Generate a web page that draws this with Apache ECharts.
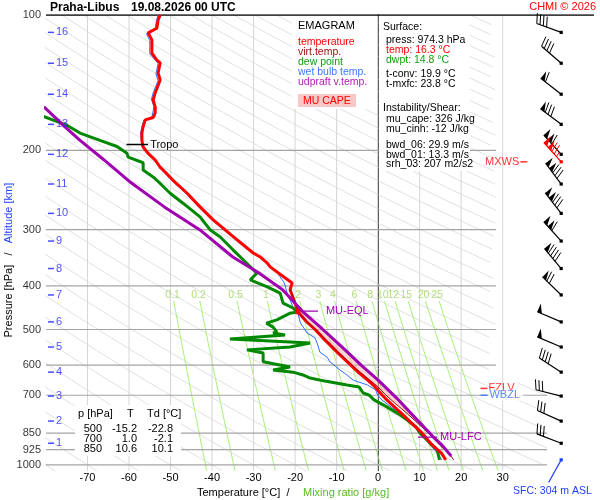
<!DOCTYPE html>
<html>
<head>
<meta charset="utf-8">
<title>Praha-Libus emagram</title>
<script src="https://cdn.jsdelivr.net/npm/echarts/dist/echarts.min.js"></script>
<style>
html, body { margin: 0; padding: 0; background: #fff; }
#chart { width: 600px; height: 500px; }
</style>
</head>
<body>
<div id="chart"></div>
<script>
var FONT = 'Liberation Sans, Arial, Helvetica, sans-serif';

// pressure levels labelled on the left [hPa]
var pressureTicks = [100, 200, 300, 400, 500, 600, 700, 850, 925, 1000];
// altitude marks [km] and the pressure where the sounding reaches them
var kmValues = [1, 2, 3, 4, 5, 6, 7, 8, 9, 10, 11, 12, 13, 14, 15, 16];
var kmPressure = [895, 799, 703, 622, 547, 481, 419, 366, 318, 276, 237.5, 204, 175, 150, 128, 109.3];
// background lines
var isotherms = [-70, -60, -50, -40, -30, -20, -10, 0, 10, 20, 30];
var mixingRatios = [0.1, 0.2, 0.5, 1, 2, 3, 4, 6, 8, 10, 12, 15, 20, 25];

// profiles, [pressure hPa, temperature °C]
var temperature = [
  [974.3, 16.3], [943, 15.3], [903, 13.0], [850, 10.6], [820, 8.8], [790, 7.0], [763, 5.3],
  [730, 3.0], [700, 1.0], [670, -0.8], [648, -2.5], [620, -5.0], [600, -6.6], [560, -10.0],
  [530, -12.6], [500, -15.2], [480, -17.3], [457, -19.3], [437, -20.0], [408, -21.2],
  [394, -20.7], [388, -21.7], [374, -24.1], [363, -26.0], [356, -26.7], [345, -28.4],
  [338, -30.1], [311, -34.9], [285, -39.8], [267, -42.9], [249, -46.0], [233, -49.4],
  [221, -51.8], [218, -52.5], [210, -53.7], [203, -55.4], [196.5, -56.6], [190, -56.9],
  [183, -56.9], [177, -56.6], [171, -56.1], [169, -54.2], [165, -53.7], [160, -53.7],
  [154.5, -54.2], [149, -53.7], [139.5, -52.5], [134.6, -53.0], [127.8, -52.5], [126, -53.3],
  [121.5, -54.5], [113.6, -54.5], [109.6, -55.4], [107, -53.3], [102.6, -53.0], [100, -52.5]
];
var virtualTemp = [
  [974.3, 18.2], [943, 17.1], [903, 14.8], [850, 12.2], [820, 10.3], [790, 8.4], [763, 6.6],
  [730, 4.1], [700, 1.9], [670, -0.1], [648, -2.0], [620, -4.5], [600, -6.3], [560, -9.8],
  [530, -12.4], [500, -15.0], [480, -17.2], [457, -19.2], [437, -19.9], [408, -21.1]
];
var dewPoint = [
  [974.3, 14.8], [926, 14.2], [894, 12.5], [850, 10.1], [824, 9.2], [795, 7.0], [767, 4.6],
  [744, 2.2], [717, -1.0], [700, -2.1], [692, -3.6], [671, -4.6], [664, -7.5], [652, -12.5],
  [641, -16.4], [631, -18.1], [622, -20.5], [615, -25.3], [606, -21.2], [590, -27.7],
  [564, -27.7], [555, -31.6], [547, -21.2], [536, -16.4], [525, -35.7], [514, -22.4],
  [509, -25.3], [506, -24.4], [494, -25.3], [484, -26.9], [476, -24.4], [460, -21.2],
  [457, -19.6], [448, -20.5], [437, -22.9], [415, -23.6], [402, -26.7], [388, -30.8],
  [382, -30.1], [375, -29.2], [350, -32.5], [333, -34.9], [311, -38.1], [300, -40.5],
  [281, -42.9], [262, -47.0], [249, -50.1], [233, -53.3], [229, -54.2], [221, -56.6],
  [213, -56.6], [207, -60.2], [203, -60.5], [196, -62.9], [190, -67.0], [183, -71.8],
  [176, -74.9], [168, -80.7]
];
var wetBulb = [
  [974.3, 15.3], [941, 14.3], [903, 12.5], [850, 10.3], [807, 7.6], [763, 4.8], [717, 0.9],
  [700, -0.1], [681, -0.6], [664, -2.6], [648, -6.0], [631, -7.5], [615, -9.2], [590, -11.6],
  [576, -12.3], [562, -14.0], [536, -14.7], [522, -15.2], [509, -17.1], [484, -18.7],
  [457, -19.4], [446, -20.5], [415, -21.9], [394, -22.6], [374, -24.3], [345, -28.6],
  [338, -30.4], [311, -35.2], [285, -40.1], [267, -43.2], [249, -46.3], [233, -49.7],
  [221, -52.1], [210, -54.0], [203, -55.7], [196, -56.9], [183, -57.2], [177, -56.9],
  [171, -56.4], [169, -54.5], [160, -54.0], [154, -54.6], [149, -54.2], [140, -53.0],
  [135, -53.5], [128, -53.0], [122, -55.0], [114, -55.0], [110, -55.8], [107, -53.7],
  [103, -53.4], [100, -53.0]
];
var parcel = [
  [955, 17.6], [900, 15.2], [867, 13.3], [794, 9.4], [717, 4.9], [648, 0.0], [600, -4.1],
  [550, -8.4], [500, -13.3], [455, -18.3], [408, -23.0], [374, -28.8], [345, -35.0],
  [300, -43.0], [267, -51.5], [236, -59.5], [210, -66.0], [190, -71.8], [177, -75.5], [160, -80.5]
];
var lfcPressure = 867, eqlPressure = 455, tropoPressure = 194;

// winds: pressure, direction [deg], speed [kt], kind (0 sounding, 1 max wind, 2 surface)
var windLevels = [974.3, 895, 799, 703, 622, 547, 481, 419, 366, 318, 276, 237.5, 204, 175, 150, 128, 109.3, 212];
var windDir = [209, 291, 294, 284, 303, 293, 293, 314, 320, 318, 322, 323, 318, 307, 308, 311, 290, 318];
var windSpeed = [0, 30, 30, 30, 40, 50, 50, 70, 90, 110, 130, 130, 110, 80, 60, 40, 40, 125];
var windKind = [2, 0, 0, 0, 0, 0, 0, 0, 0, 0, 0, 0, 0, 0, 0, 0, 0, 1];

var tableRows = [['500', '-15.2', '-22.8'], ['700', '1.0', '-2.1'], ['850', '10.6', '10.1']];

var barbT = 44.1;
function rightLimit(p) { return p < 650 ? 28.4 : 40.7; }
function toXY(arr) { return arr.map(function (d) { return [d[1], d[0]]; }); }

// diagonal background lines, one every 10 degrees at 1000 hPa
function adiabatLines() {
  var out = [];
  for (var th = -80; th <= 370; th += 10) {
    var seg = [];
    for (var i = 0; i <= 140; i++) {
      var p = 100 * Math.pow(10.3, i / 140);
      var t = (th + 330) * Math.pow(p / 1000, 0.2857) - 330;
      if (t <= rightLimit(p)) { seg.push([t, p]); }
      else { if (seg.length > 1) out.push({ coords: seg }); seg = []; }
    }
    if (seg.length > 1) out.push({ coords: seg });
  }
  return out;
}
function tdFromMix(w, p) {
  var e = w * p / (622 + w);
  var l = Math.log(e / 6.112);
  return 243.5 * l / (17.67 - l);
}
function mixLines() {
  return mixingRatios.map(function (w) {
    var pts = [];
    for (var i = 0; i <= 20; i++) {
      var p = 432 * Math.pow(1030 / 432, i / 20);
      pts.push([tdFromMix(w, p), p]);
    }
    return { coords: pts };
  });
}

var barbColors = ['#000', '#ff0000', '#1f3fff'];
function renderBarb(params, api) {
  var pt = api.coord([api.value(0), api.value(1)]);
  var dir = api.value(2), spd = api.value(3), color = barbColors[api.value(4)];
  var a = dir * Math.PI / 180;
  var ux = Math.sin(a), uy = -Math.cos(a);
  var px = -uy, py = ux;
  var L = 26;
  var kids = [
    { type: 'line', shape: { x1: pt[0], y1: pt[1], x2: pt[0] + ux * L, y2: pt[1] + uy * L }, style: { stroke: color, lineWidth: 1.2 } },
    { type: 'rect', shape: { x: pt[0] - 1.6, y: pt[1] - 1.6, width: 3.2, height: 3.2 }, style: { fill: color } }
  ];
  var rest = Math.round(spd / 5) * 5, s = L;
  while (rest >= 50) {
    var b1 = [pt[0] + ux * s, pt[1] + uy * s];
    var b2 = [pt[0] + ux * (s - 5), pt[1] + uy * (s - 5)];
    kids.push({ type: 'polygon', shape: { points: [b1, [b1[0] + px * 9, b1[1] + py * 9], b2] }, style: { fill: color } });
    s -= 6; rest -= 50;
  }
  while (rest >= 10) {
    var b = [pt[0] + ux * s, pt[1] + uy * s];
    kids.push({ type: 'line', shape: { x1: b[0], y1: b[1], x2: b[0] + px * 10 + ux * 3, y2: b[1] + py * 10 + uy * 3 }, style: { stroke: color, lineWidth: 1 } });
    s -= 3.5; rest -= 10;
  }
  if (rest >= 5) {
    var h = [pt[0] + ux * s, pt[1] + uy * s];
    kids.push({ type: 'line', shape: { x1: h[0], y1: h[1], x2: h[0] + px * 5 + ux * 1.5, y2: h[1] + py * 5 + uy * 1.5 }, style: { stroke: color, lineWidth: 1 } });
  }
  return { type: 'group', children: kids };
}

function renderCape(params, api) {
  var up = parcel.filter(function (d) { return d[0] <= lfcPressure && d[0] >= eqlPressure; });
  var env = virtualTemp.filter(function (d) { return d[0] <= lfcPressure && d[0] >= eqlPressure; }).reverse();
  var pts = up.concat(env).map(function (d) { return api.coord([d[1], d[0]]); });
  return { type: 'polygon', shape: { points: pts }, style: { fill: 'rgba(246,160,160,0.45)' } };
}

function profile(data, color, width, z) {
  return { type: 'line', data: toXY(data), showSymbol: false, symbol: 'none', silent: true, z: z,
    lineStyle: { color: color, width: width } };
}
function tick(t1, t2, p, color, text, dist) {
  return { type: 'line', data: [[t1, p], [t2, p]], showSymbol: false, symbol: 'none', silent: true, z: 8,
    lineStyle: { color: color, width: 1.3 },
    endLabel: { show: true, formatter: text, color: color, fontSize: 11, fontFamily: FONT, distance: dist } };
}
function marker(t, p, color, text, pos, bg) {
  return { type: 'scatter', data: [[t, p]], symbol: 'rect', symbolSize: [7, 1.5], clip: false, silent: true, z: 9,
    itemStyle: { color: color },
    label: { show: true, position: pos, distance: 1, formatter: text, color: color, fontSize: 11, fontFamily: FONT,
      backgroundColor: bg || 'transparent', padding: bg ? [0, 3, 0, 1] : 0 } };
}

function txt(x, y, text, color, size, extra) {
  var st = { text: text, fill: color, fontSize: size, fontFamily: FONT, verticalAlign: 'middle', textVerticalAlign: 'middle' };
  for (var k in extra) st[k] = extra[k];
  return { type: 'text', x: x, y: y, z: 101, style: st };
}
function box(x, y, w, h, fill) {
  return { type: 'rect', shape: { x: x, y: y, width: w, height: h }, z: 100, style: { fill: fill || '#fff' } };
}

var graphics = [
  txt(50, 7.5, 'Praha-Libus', '#000', 12, { fontWeight: 'bold' }),
  txt(131, 7.5, '19.08.2026 00 UTC', '#000', 12, { fontWeight: 'bold' }),
  txt(596, 7, 'CHMI © 2026', '#ff0000', 11, { align: 'right', textAlign: 'right' }),
  box(292, 16, 85, 93),
  txt(298, 26, 'EMAGRAM', '#000', 11),
  txt(298, 42, 'temperature', '#ff0000', 10.5),
  txt(298, 52, 'virt.temp.', '#a01010', 10.5),
  txt(298, 62, 'dew point', '#10a010', 10.5),
  txt(298, 72, 'wet bulb temp.', '#3c78ff', 10.5),
  txt(298, 82, 'udpraft v.temp.', '#b020b0', 10.5),
  box(298, 94, 58, 13, '#f8c8c8'),
  txt(303, 101, 'MU CAPE', '#ff0000', 10.5),
  box(379, 16, 91, 155),
  txt(383, 27.5, 'Surface:', '#000', 10.5),
  txt(386, 40, 'press: 974.3 hPa', '#000', 10.5),
  txt(386, 50, 'temp: 16.3 °C', '#ff0000', 10.5),
  txt(386, 60, 'dwpt: 14.8 °C', '#10a010', 10.5),
  txt(386, 74, 't-conv: 19.9 °C', '#000', 10.5),
  txt(386, 84.5, 't-mxfc: 23.8 °C', '#000', 10.5),
  txt(383, 108.5, 'Instability/Shear:', '#000', 10.5),
  txt(386, 119.5, 'mu_cape: 326 J/kg', '#000', 10.5),
  txt(386, 129.5, 'mu_cinh: -12 J/kg', '#000', 10.5),
  txt(386, 145, 'bwd_06: 29.9 m/s', '#000', 10.5),
  txt(386, 155, 'bwd_01: 13.3 m/s', '#000', 10.5),
  txt(386, 164, 'srh_03: 207 m2/s2', '#000', 10.5),
  box(75, 405, 106, 51),
  txt(78, 414, 'p [hPa]', '#000', 11),
  txt(127, 414, 'T', '#000', 11),
  txt(147, 414, 'Td [°C]', '#000', 11),
  txt(197, 493, 'Temperature [°C]  /', '#000', 11),
  txt(303, 493, 'Mixing ratio [g/kg]', '#55bb22', 11),
  txt(513, 491, 'SFC: 304 m ASL', '#1f3fff', 10.5),
  { type: 'text', x: 9, y: 213, rotation: Math.PI / 2, z: 101,
    style: { text: 'Altitude [km]', fill: '#1f3fff', fontSize: 11, fontFamily: FONT, align: 'center', textAlign: 'center', verticalAlign: 'middle', textVerticalAlign: 'middle' } },
  { type: 'text', x: 9, y: 295, rotation: Math.PI / 2, z: 101,
    style: { text: 'Pressure [hPa]   /', fill: '#000', fontSize: 11, fontFamily: FONT, align: 'center', textAlign: 'center', verticalAlign: 'middle', textVerticalAlign: 'middle' } }
];
tableRows.forEach(function (r, i) {
  var y = 428.5 + i * 10.3;
  graphics.push(txt(102, y, r[0], '#000', 11, { align: 'right', textAlign: 'right' }));
  graphics.push(txt(137, y, r[1], '#000', 11, { align: 'right', textAlign: 'right' }));
  graphics.push(txt(173, y, r[2], '#000', 11, { align: 'right', textAlign: 'right' }));
});

var chart = echarts.init(document.getElementById('chart'));
chart.setOption({
  animation: false,
  backgroundColor: '#fff',
  textStyle: { fontFamily: FONT },
  grid: { left: 46, right: 6, top: 15, bottom: 29.3 },
  xAxis: {
    type: 'value', min: -80, max: 52, interval: 10,
    axisLine: { show: false }, axisTick: { show: false }, splitLine: { show: false },
    axisLabel: { color: '#000', fontSize: 11, margin: 2, fontFamily: FONT,
      formatter: function (v) { return (v >= -70 && v <= 30) ? String(v) : ''; } }
  },
  yAxis: {
    type: 'log', logBase: 10, min: 100, max: 1030, inverse: true,
    axisLine: { show: true, lineStyle: { color: '#000', width: 1 } },
    axisTick: { show: false }, axisLabel: { show: false }, splitLine: { show: false }
  },
  graphic: graphics,
  series: [
    { type: 'lines', coordinateSystem: 'cartesian2d', polyline: true, silent: true, z: 1,
      lineStyle: { color: '#d8d8d8', width: 0.8, opacity: 1 }, data: adiabatLines() },
    { type: 'lines', coordinateSystem: 'cartesian2d', polyline: true, silent: true, z: 1,
      lineStyle: { color: '#a8f07a', width: 1, opacity: 1 }, data: mixLines() },
    { type: 'lines', coordinateSystem: 'cartesian2d', polyline: true, silent: true, z: 1,
      lineStyle: { color: '#d6d6d6', width: 1, opacity: 1 },
      data: isotherms.filter(function (t) { return t !== 0; }).map(function (t) { return { coords: [[t, 100], [t, 1030]] }; }) },
    { type: 'lines', coordinateSystem: 'cartesian2d', polyline: true, silent: true, z: 1,
      lineStyle: { color: '#999', width: 1, opacity: 1 }, data: [{ coords: [[0, 100], [0, 1030]] }] },
    { type: 'lines', coordinateSystem: 'cartesian2d', polyline: true, silent: true, z: 1,
      lineStyle: { color: '#a4a4a4', width: 1.2, opacity: 1 },
      data: pressureTicks.slice(1).map(function (p) { return { coords: [[-80, p], [rightLimit(p), p]] }; }) },
    { type: 'lines', coordinateSystem: 'cartesian2d', polyline: true, silent: true, z: 1,
      lineStyle: { color: '#000', width: 1.3, opacity: 1 }, data: [{ coords: [[-80, 100], [52, 100]] }] },
    { type: 'scatter', silent: true, symbolSize: 0, clip: false, z: 2,
      data: mixingRatios.map(function (w) { return [tdFromMix(w, 419), 419, w]; }),
      label: { show: true, position: 'inside', color: '#9fd45a', fontSize: 10.5, fontFamily: FONT,
        formatter: function (p) { return String(p.value[2]); } } },
    { type: 'custom', renderItem: renderCape, data: [[0, 600]], silent: true, z: 3 },
    profile(wetBulb, '#2f6fff', 1, 4),
    profile(dewPoint, '#008800', 3, 5),
    profile(temperature, '#ff0000', 3, 6),
    profile(virtualTemp, '#a00000', 1, 7),
    profile(parcel, '#a000b0', 3, 7),
    { type: 'scatter', data: [[-19.3, 457]], symbol: 'rect', symbolSize: 5, silent: true, z: 8, itemStyle: { color: '#ff0000' } },
    tick(-60.6, -55.4, tropoPressure, '#000', 'Tropo', 2),
    tick(-19.5, -14.5, eqlPressure, '#a000b0', 'MU-EQL', 8),
    tick(9.6, 14.2, lfcPressure, '#a000b0', 'MU-LFC', 3),
    marker(25.5, 676, '#ff0000', 'FZLV', 'right'),
    marker(25.5, 700, '#2f6fff', 'WBZL', 'right', '#fff'),
    marker(35.1, 212, '#ff0000', 'MXWS', 'left'),
    { type: 'scatter', silent: true, symbolSize: 0, clip: false, z: 9,
      data: pressureTicks.map(function (p) { return [-80, p]; }),
      label: { show: true, position: 'left', distance: 5, color: '#000', fontSize: 11, fontFamily: FONT,
        formatter: function (p) { return String(p.value[1]); } } },
    { type: 'scatter', silent: true, symbol: 'rect', symbolSize: [6, 1.5], clip: false, z: 9,
      itemStyle: { color: '#1f1fff' },
      data: kmPressure.map(function (p, i) { return [-78.8, p, kmValues[i]]; }),
      label: { show: true, position: 'right', distance: 2, color: '#1f1fff', fontSize: 11, fontFamily: FONT,
        formatter: function (p) { return String(p.value[2]); } } },
    { type: 'custom', renderItem: renderBarb, silent: true, z: 10,
      data: windLevels.map(function (p, i) { return [barbT, p, windDir[i], windSpeed[i], windKind[i]]; }) }
  ]
});
</script>
</body>
</html>
